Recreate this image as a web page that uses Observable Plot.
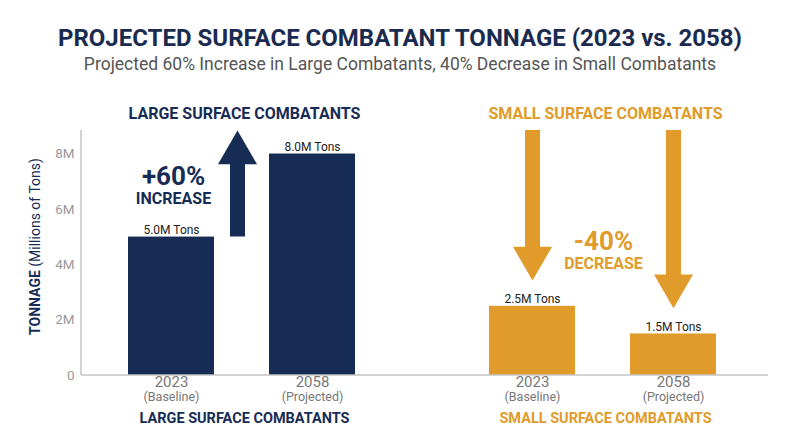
<!DOCTYPE html>
<html><head><meta charset="utf-8">
<script src="https://cdn.jsdelivr.net/npm/d3@7"></script>
<script src="https://cdn.jsdelivr.net/npm/@observablehq/plot@0.6"></script>
<style>
body{margin:0;background:#fff;font-family:Roboto,sans-serif;width:800px;height:447px;overflow:hidden}
#hdr{height:85px;text-align:center}
#t{font-size:24px;font-weight:700;color:#1a2b4f;line-height:28px;padding-top:24px}
#s{font-size:17.5px;color:#555;line-height:20px;margin-top:2px}
</style></head><body>
<div id="hdr"><div id="t">PROJECTED SURFACE COMBATANT TONNAGE (2023 vs. 2058)</div><div id="s">Projected 60% Increase in Large Combatants, 40% Decrease in Small Combatants</div></div>
<div id="chart"></div>
<script>
const groups = ["Large", "Small"];
const groupLabels = ["LARGE SURFACE COMBATANTS", "SMALL SURFACE COMBATANTS"];
const years = ["2023", "2058"];
const yearNotes = ["(Baseline)", "(Projected)"];
const largeValues = [5.0, 8.0];
const smallValues = [2.5, 1.5];
const changeLabels = ["+60%", "-40%"];
const changeWords = ["INCREASE", "DECREASE"];
const yTicks = [0, 2, 4, 6, 8];
const colors = ["#172c55", "#e09b2a"];
const yMax = 8.85;

const bars = groups.flatMap((g, gi) => years.map((yr, i) => ({
  group: g, year: yr, note: yearNotes[i], value: (gi ? smallValues : largeValues)[i]
})));
const groupData = groups.map((g, i) => ({group: g, label: groupLabels[i], pct: changeLabels[i], word: changeWords[i], year: years[0]}));

// arrows
const upArrows = bars.filter(d => d.group === "Large" && d.year === years[0]).map(d => ({group: d.group, year: d.year, y1: yMax, y2: d.value, tip: yMax}));
const downArrows = bars.filter(d => d.group === "Small").map(d => ({group: d.group, year: d.year, y1: yMax, y2: d.value + 0.93, tip: d.value + 0.93}));

const chart = Plot.plot({
  width: 800, height: 362,
  marginLeft: 81, marginRight: 32, marginTop: 45, marginBottom: 72,
  style: {fontFamily: "Roboto, sans-serif", background: "white", overflow: "visible"},
  fx: {domain: groups, paddingInner: 0.097, paddingOuter: 0, axis: null, label: null},
  x: {domain: years, paddingInner: 0.389, paddingOuter: 0.346, align: 0.48, axis: null, label: null},
  y: {domain: [0, yMax], label: null},
  color: {domain: groups, range: colors},
  marks: [
    Plot.axisY({ticks: yTicks, tickSize: 0, tickPadding: 7, tickFormat: d => d === 0 ? "0" : d + "M", fontSize: 13.5, color: "#999", label: null}),
    Plot.barY(bars, {fx: "group", x: "year", y: "value", fill: "group"}),
    Plot.text(bars, {fx: "group", x: "year", y: "value", text: d => d.value.toFixed(1) + "M Tons", dy: -7, fontSize: 12, fill: "#222"}),
    // up arrow
    Plot.ruleX(upArrows, {fx: "group", x: "year", y1: "y1", y2: "y2", stroke: "group", strokeWidth: 15, dx: 66, insetTop: 30}),
    Plot.dot(upArrows, {fx: "group", x: "year", y: "tip", symbol: "triangle", r: 14.5, fill: "group", dx: 66, dy: 22.5}),
    // down arrows
    Plot.ruleX(downArrows, {fx: "group", x: "year", y1: "y1", y2: "y2", stroke: "group", strokeWidth: 15, insetBottom: 30}),
    Plot.dot(downArrows, {fx: "group", x: "year", y: "tip", symbol: "triangle", r: 14.5, rotate: 180, fill: "group", dy: -22.5}),
    // change annotations
    Plot.text(groupData.slice(0, 1), {fx: "group", x: "year", frameAnchor: "top", dy: 36, dx: 2, text: "pct", fill: "group", fontSize: 26, fontWeight: "bold"}),
    Plot.text(groupData.slice(0, 1), {fx: "group", x: "year", frameAnchor: "top", dy: 62.5, dx: 2, text: "word", fill: "group", fontSize: 16, fontWeight: "bold"}),
    Plot.text(groupData.slice(1), {fx: "group", frameAnchor: "top", dy: 101, dx: -2, text: "pct", fill: "group", fontSize: 26, fontWeight: "bold"}),
    Plot.text(groupData.slice(1), {fx: "group", frameAnchor: "top", dy: 127.5, dx: -2, text: "word", fill: "group", fontSize: 16, fontWeight: "bold"}),
    // group titles
    Plot.text(groupData, {fx: "group", frameAnchor: "top", dy: -23.3, text: "label", fill: "group", fontSize: 16, fontWeight: "bold"}),
    Plot.text(groupData, {fx: "group", frameAnchor: "bottom", dy: 47, text: "label", fill: "group", fontSize: 14.5, fontWeight: "bold"}),
    // x tick labels
    Plot.text(bars, {fx: "group", x: "year", frameAnchor: "bottom", dy: 11, text: "year", fontSize: 15, fill: "#777"}),
    Plot.text(bars, {fx: "group", x: "year", frameAnchor: "bottom", dy: 25.5, text: "note", fontSize: 12.5, fill: "#777"})
  ]
});

const svg = d3.select(chart);
const ys = chart.scale("y");
const y0 = ys.apply(0), yT = ys.apply(yMax);
svg.append("line").attr("x1", 81).attr("x2", 81).attr("y1", yT).attr("y2", y0).attr("stroke", "#c4c4c4").attr("stroke-width", 1.5);
svg.append("line").attr("x1", 81).attr("x2", 800 - 32).attr("y1", y0).attr("y2", y0).attr("stroke", "#c4c4c4").attr("stroke-width", 1.5);
const lab = svg.append("text").attr("transform", `translate(36,${(y0 + yT) / 2 - 6}) rotate(-90)`)
  .attr("text-anchor", "middle").attr("dominant-baseline", "middle").attr("font-size", 14).attr("fill", colors[0]).attr("font-family", "Roboto, sans-serif");
lab.append("tspan").attr("font-weight", "bold").text("TONNAGE");
lab.append("tspan").text(" (Millions of Tons)");
document.getElementById("chart").appendChild(chart);
</script>
</body></html>
